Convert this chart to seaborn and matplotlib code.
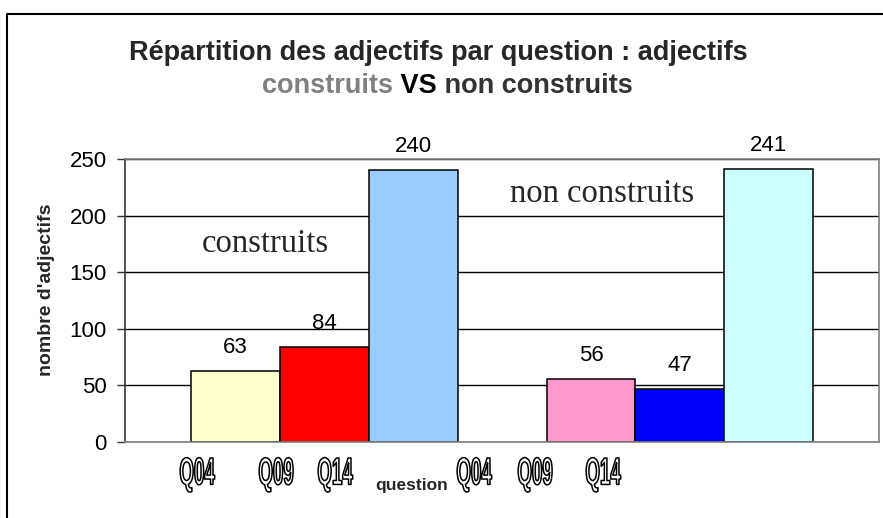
import matplotlib
matplotlib.use("Agg")
import matplotlib.pyplot as plt
import seaborn as sns
import pandas as pd
from matplotlib.lines import Line2D
from matplotlib.patheffects import AbstractPathEffect
from matplotlib.transforms import Affine2D

# data
groups = ["construits", "non construits"]
questions = ["Q04", "Q09", "Q14"]
construits = [63, 84, 240]
non_construits = [56, 47, 241]
q_labels = ["Q04", "Q09", "Q14", "Q04", "Q09", "Q14"]

bar_colors = {
    "construits": ["#FFFFCC", "#FF0000", "#99CCFF"],
    "non construits": ["#FF99CC", "#0000FF", "#CCFFFF"],
}

df = pd.DataFrame({
    "groupe": [g for g in groups for _ in questions],
    "question": questions * 2,
    "valeur": construits + non_construits,
})

W, H = 883, 518


class Stretch(AbstractPathEffect):
    """draw text stretched vertically, white fill + black outline"""
    def __init__(self, sy=2.0, lw=0.8):
        super().__init__()
        self.sy = sy
        self.lw = lw

    def draw_path(self, renderer, gc, tpath, affine, rgbFace=None):
        ext = tpath.get_extents(affine)
        cy = (ext.y0 + ext.y1) / 2
        aff = affine + Affine2D().translate(0, -cy).scale(1, self.sy).translate(0, cy)
        gc0 = renderer.new_gc()
        gc0.copy_properties(gc)
        gc0.set_linewidth(self.lw)
        gc0.set_foreground("black")
        renderer.draw_path(gc0, tpath, aff, (1, 1, 1))
        gc0.restore()


sns.set_theme(style="white")
plt.rcParams["font.family"] = ["Liberation Sans", "DejaVu Sans"]

fig = plt.figure(figsize=(W / 100, H / 100), dpi=100)
ax = fig.add_axes([125 / W, 1 - 442 / H, (879 - 125) / W, (442 - 159) / H])

sns.barplot(data=df, x="groupe", y="valeur", hue="question", order=groups,
            hue_order=questions, width=0.75, gap=0, dodge=True,
            edgecolor="black", linewidth=1.1, saturation=1, legend=False, ax=ax)

for qi, cont in enumerate(ax.containers):
    for gi, bar in enumerate(cont):
        bar.set_facecolor(bar_colors[groups[gi]][qi])
    ax.bar_label(cont, padding=9.4, fontsize=16, color="black")

ax.set_xlim(-0.561, 1.560)
ax.set_ylim(0, 250)
ax.set_yticks([0, 50, 100, 150, 200, 250])
ax.set_xticks([])
ax.set_xlabel("")
ax.set_ylabel("")
ax.tick_params(axis="y", labelsize=16, length=5.8, width=1, color="#333333",
               pad=7.2, left=True, labelcolor="black")
ax.yaxis.grid(True, color="black", linewidth=1)
ax.set_axisbelow(True)
for s in ["top", "right", "bottom"]:
    ax.spines[s].set_color("#808080")
    ax.spines[s].set_linewidth(1.2)
ax.spines["left"].set_color("#333333")
ax.spines["left"].set_linewidth(1.2)

# texts inside the plot
ax.text(265 / W, 1 - 252 / H, "construits", transform=fig.transFigure,
        family="Liberation Serif", fontsize=23.5, ha="center", va="baseline")
ax.text(602 / W, 1 - 202 / H, "non construits", transform=fig.transFigure,
        family="Liberation Serif", fontsize=23.5, ha="center", va="baseline")

# question labels (outlined, tall narrow)
q_pos = [197, 276, 335, 474, 535, 603]
for lab, xp in zip(q_labels, q_pos):
    fig.text(xp / W, 1 - 475 / H, lab, fontsize=13.5, fontweight="bold",
             ha="center", va="center",
             path_effects=[Stretch(sy=2.05, lw=1.1)])

fig.text(412 / W, 1 - 490 / H, "question", fontsize=12.5, fontweight="bold",
         ha="center", va="baseline")
fig.text(47 / W, 1 - 290 / H, "nombre d'adjectifs", fontsize=14, fontweight="bold",
         rotation=90, ha="center", va="center")

# title
fig.text(438 / W, 1 - 60 / H, "Répartition des adjectifs par question : adjectifs",
         fontsize=19.5, fontweight="bold", ha="center", va="baseline")
t1 = fig.text(262 / W, 1 - 93 / H, "construits", fontsize=19.5, fontweight="bold",
              color="#808080", ha="left", va="baseline")
t2 = ax.annotate(" VS", xy=(1, 0), xycoords=t1, fontsize=19.5, fontweight="bold",
                 color="black", ha="left", va="bottom", annotation_clip=False)
ax.annotate(" non construits", xy=(1, 0), xycoords=t2, fontsize=19.5,
            fontweight="bold", color="#333333", ha="left", va="bottom",
            annotation_clip=False)

# outer frame
fig.add_artist(Line2D([7 / W, 7 / W, 1], [0, 1 - 14 / H, 1 - 14 / H],
                      transform=fig.transFigure, color="black", linewidth=1.5))

fig.savefig("out.png", dpi=100)
